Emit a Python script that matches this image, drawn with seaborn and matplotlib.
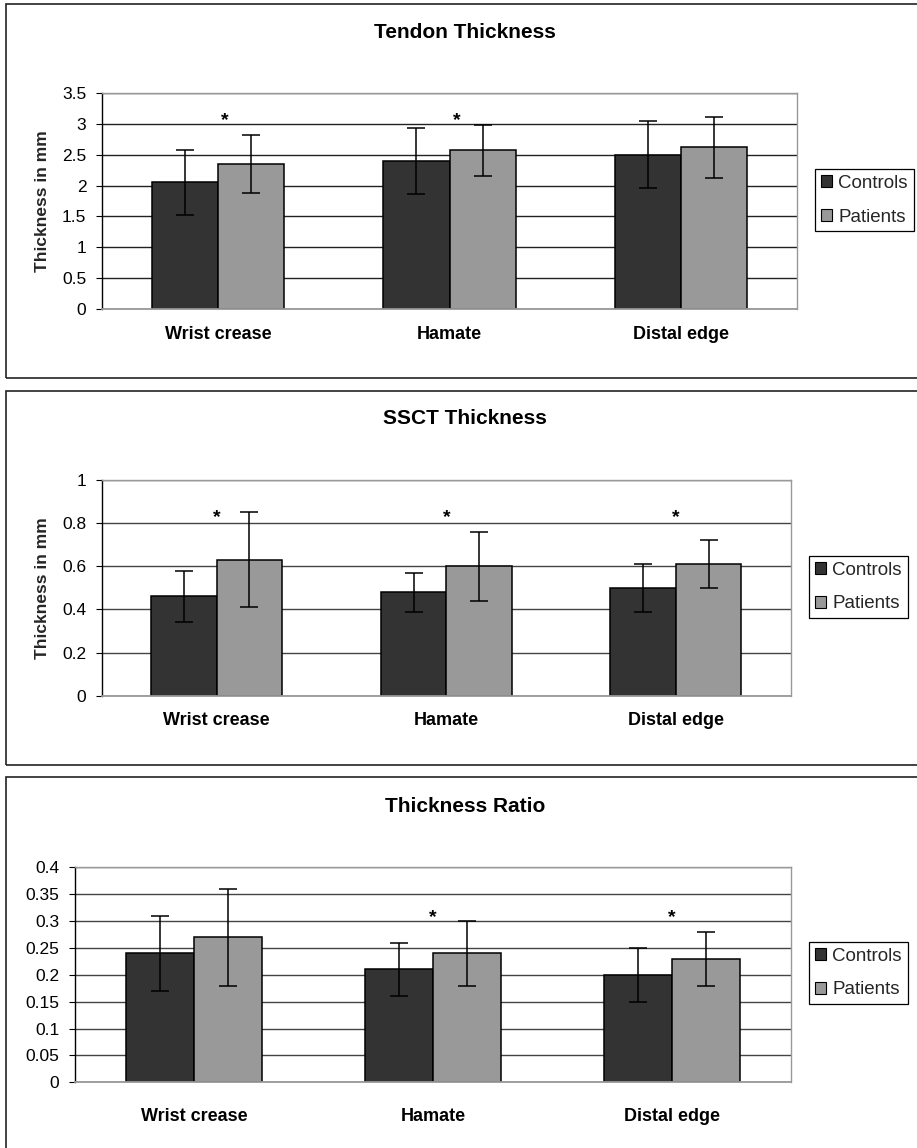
import matplotlib
matplotlib.use("Agg")
import matplotlib.pyplot as plt
import seaborn as sns
import pandas as pd
from matplotlib.patches import Rectangle

# ---------------- data ----------------
categories = ["Wrist crease", "Hamate", "Distal edge"]
groups = ["Controls", "Patients"]

tendon_controls = [2.05, 2.40, 2.50]
tendon_controls_sd = [0.53, 0.54, 0.54]
tendon_patients = [2.35, 2.57, 2.62]
tendon_patients_sd = [0.47, 0.41, 0.49]
tendon_stars = [True, True, False]

ssct_controls = [0.46, 0.48, 0.50]
ssct_controls_sd = [0.12, 0.09, 0.11]
ssct_patients = [0.63, 0.60, 0.61]
ssct_patients_sd = [0.22, 0.16, 0.11]
ssct_stars = [True, True, True]

ratio_controls = [0.24, 0.21, 0.20]
ratio_controls_sd = [0.07, 0.05, 0.05]
ratio_patients = [0.27, 0.24, 0.23]
ratio_patients_sd = [0.09, 0.06, 0.05]
ratio_stars = [False, True, True]

tendon_ticks = [0, 0.5, 1, 1.5, 2, 2.5, 3, 3.5]
tendon_tick_labels = ["0", "0.5", "1", "1.5", "2", "2.5", "3", "3.5"]
ssct_ticks = [0, 0.2, 0.4, 0.6, 0.8, 1.0]
ssct_tick_labels = ["0", "0.2", "0.4", "0.6", "0.8", "1"]
ratio_ticks = [0, 0.05, 0.1, 0.15, 0.2, 0.25, 0.3, 0.35, 0.4]
ratio_tick_labels = ["0", "0.05", "0.1", "0.15", "0.2", "0.25", "0.3", "0.35", "0.4"]

titles = ["Tendon Thickness", "SSCT Thickness", "Thickness Ratio"]
ylabel_text = "Thickness in mm"

# ---------------- style ----------------
sns.set_style("white")
plt.rcParams["font.family"] = ["Liberation Sans", "DejaVu Sans"]

W, H = 917, 1148
fig = plt.figure(figsize=(W / 100, H / 100), dpi=100)
fig.patch.set_facecolor("white")

palette = {"Controls": "#333333", "Patients": "#999999"}


def fx(px):
    return px / W


def fy(py):
    return 1 - py / H


panels = [
    dict(title=titles[0], c=tendon_controls, csd=tendon_controls_sd, p=tendon_patients,
         psd=tendon_patients_sd, stars=tendon_stars, ticks=tendon_ticks, tl=tendon_tick_labels,
         ylabel=ylabel_text, box=(102, 93, 797, 309), title_y=33, star_y=3.16, star_dx=0.03,
         xpad=11.9, leg=(815, 169), border=(4, 378), grid="#222222"),
    dict(title=titles[1], c=ssct_controls, csd=ssct_controls_sd, p=ssct_patients,
         psd=ssct_patients_sd, stars=ssct_stars, ticks=ssct_ticks, tl=ssct_tick_labels,
         ylabel=ylabel_text, box=(102, 480, 790.6, 695.7), title_y=419, star_y=0.855, star_dx=0.0,
         xpad=11.4, leg=(809, 556), border=(390.7, 764.7), grid="#444444"),
    dict(title=titles[2], c=ratio_controls, csd=ratio_controls_sd, p=ratio_patients,
         psd=ratio_patients_sd, stars=ratio_stars, ticks=ratio_ticks, tl=ratio_tick_labels,
         ylabel="", box=(75, 867.3, 791, 1082.3), title_y=806, star_y=0.318, star_dx=0.0,
         xpad=18.8, leg=(809, 942), border=(777.3, 1200), grid="#444444"),
]

for P in panels:
    # panel border
    top, bot = P["border"]
    fig.patches.append(Rectangle((fx(6), fy(bot)), 1.2, (bot - top) / H, fill=False,
                                 edgecolor="#222222", linewidth=1.2,
                                 transform=fig.transFigure, figure=fig))

    x0, y0, x1, y1 = P["box"]
    ax = fig.add_axes([fx(x0), fy(y1), (x1 - x0) / W, (y1 - y0) / H])

    df = pd.DataFrame({
        "Site": categories * 2,
        "Group": [groups[0]] * len(categories) + [groups[1]] * len(categories),
        "Value": P["c"] + P["p"],
    })
    sds = {groups[0]: P["csd"], groups[1]: P["psd"]}

    sns.barplot(data=df, x="Site", y="Value", hue="Group", order=categories,
                hue_order=groups, palette=palette, width=0.57, errorbar=None,
                edgecolor="black", linewidth=1.1, saturation=1, ax=ax, zorder=2)
    ax.set_xlim(-0.5, len(categories) - 0.5)

    # error bars
    for cont, g in zip(ax.containers, groups):
        for bar, sd in zip(cont, sds[g]):
            xc = bar.get_x() + bar.get_width() / 2
            ax.errorbar(xc, bar.get_height(), yerr=sd, fmt="none", ecolor="black",
                        elinewidth=1.1, capsize=6.5, capthick=1.1, zorder=4)

    # significance stars
    c_bars, p_bars = ax.containers[0], ax.containers[1]
    for i, s in enumerate(P["stars"]):
        if s:
            xc = (c_bars[i].get_x() + p_bars[i].get_x() + p_bars[i].get_width()) / 2
            ax.annotate("*", xy=(xc + P["star_dx"], P["star_y"]), xytext=(0, -0.57 * 14),
                        textcoords="offset points", ha="center", va="baseline",
                        fontsize=14, fontweight="bold", color="black", zorder=5)

    ax.set_ylim(P["ticks"][0], P["ticks"][-1])
    ax.set_yticks(P["ticks"])
    ax.set_yticklabels(P["tl"], fontsize=12.5)
    ax.set_xticks(range(len(categories)))
    ax.set_xticklabels(categories, fontsize=13, fontweight="bold")
    ax.set_xlabel("")
    if P["ylabel"]:
        ax.set_ylabel(P["ylabel"], fontsize=12.5, fontweight="bold")
        ax.yaxis.set_label_coords((50 - x0) / (x1 - x0), 0.5)
    else:
        ax.set_ylabel("")

    ax.yaxis.grid(True, color=P["grid"], linewidth=1.0)
    ax.xaxis.grid(False)
    ax.set_axisbelow(True)
    ax.set_facecolor("white")

    ax.tick_params(axis="y", direction="out", length=4.3, width=0.8, color="black",
                   pad=7, left=True, labelcolor="black")
    ax.tick_params(axis="x", length=0, pad=P["xpad"], labelcolor="black")

    for side in ["top", "right"]:
        ax.spines[side].set_visible(True)
        ax.spines[side].set_color("#999999")
        ax.spines[side].set_linewidth(1.0)
    ax.spines["bottom"].set_color("#999999")
    ax.spines["bottom"].set_linewidth(1.3)
    ax.spines["left"].set_color("black")
    ax.spines["left"].set_linewidth(1.0)

    # legend
    old = ax.get_legend()
    handles = list(old.legend_handles)
    labels = [t.get_text() for t in old.get_texts()]
    old.remove()
    lx, ly = P["leg"]
    leg = ax.legend(handles, labels, loc="upper left", bbox_to_anchor=(fx(lx), fy(ly)),
                    bbox_transform=fig.transFigure, frameon=True, fancybox=False,
                    edgecolor="black", framealpha=1, fontsize=13.5, handlelength=0.6,
                    handleheight=0.6, handletextpad=0.35, borderpad=0.3,
                    labelspacing=0.9, borderaxespad=0)
    leg.get_frame().set_linewidth(0.9)
    for h in leg.legend_handles:
        h.set_edgecolor("black")
        h.set_linewidth(0.8)

    fig.text(fx(465), fy(P["title_y"]), P["title"], ha="center", va="center",
             fontsize=15, fontweight="bold", color="black")

fig.savefig("out.png", dpi=100, facecolor="white")
